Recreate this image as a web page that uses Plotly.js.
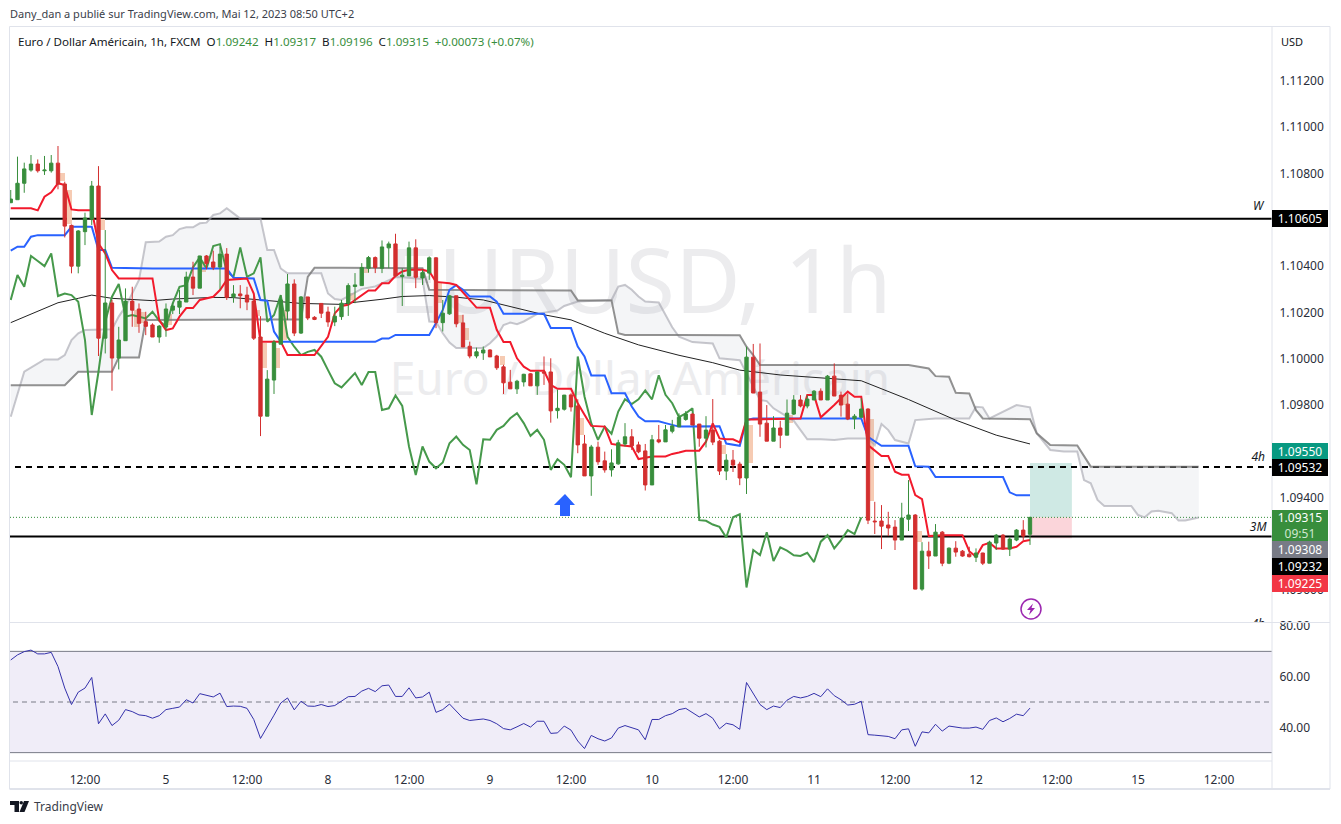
<!DOCTYPE html>
<html><head><meta charset="utf-8">
<script src="https://cdn.plot.ly/plotly-3.0.1.min.js"></script>
<style>html,body{margin:0;padding:0;background:#fff;overflow:hidden}#c{width:1341px;height:824px}</style>
</head><body><div id="c"></div>
<script>
const open=[1.10674,1.10687,1.10758,1.10815,1.10841,1.10812,1.10812,1.10845,1.10755,1.10576,
1.10400,1.10549,1.10603,1.10746,1.10089,1.10241,1.10003,1.10078,1.10249,1.10215,
1.10160,1.10146,1.10094,1.10137,1.10210,1.10223,1.10245,1.10353,1.10305,1.10444,
1.10418,1.10396,1.10452,1.10267,1.10280,1.10275,1.10249,1.10094,1.09752,1.09908,
1.10063,1.10206,1.10323,1.10111,1.10267,1.10179,1.10239,1.10202,1.10159,1.10182,
1.10240,1.10312,1.10316,1.10391,1.10437,1.10391,1.10479,1.10496,1.10355,1.10358,
1.10479,1.10349,1.10370,1.10436,1.10156,1.10194,1.10272,1.10155,1.10054,1.10012,
1.10025,1.10038,1.10012,1.09965,1.09899,1.09870,1.09900,1.09935,1.09883,1.09943,
1.09943,1.09776,1.09782,1.09844,1.09796,1.09632,1.09494,1.09618,1.09559,1.09520,
1.09546,1.09632,1.09663,1.09628,1.09602,1.09455,1.09650,1.09641,1.09687,1.09706,
1.09738,1.09761,1.09718,1.09657,1.09692,1.09644,1.09515,1.09562,1.09545,1.09485,
1.10007,1.09856,1.09722,1.09644,1.09701,1.09670,1.09761,1.09822,1.09796,1.09822,
1.09860,1.09822,1.09925,1.09843,1.09804,1.09741,1.09747,1.09783,1.09299,1.09299,
1.09282,1.09273,1.09217,1.09307,1.09325,1.09005,1.09169,1.09148,1.09251,1.09117,
1.09182,1.09169,1.09156,1.09143,1.09161,1.09117,1.09204,1.09238,1.09178,1.09217,
1.09260,1.09242];
const close=[1.10690,1.10758,1.10820,1.10841,1.10812,1.10815,1.10845,1.10755,1.10573,1.10400,
1.10552,1.10608,1.10746,1.10089,1.10241,1.10003,1.10081,1.10249,1.10210,1.10153,
1.10140,1.10094,1.10141,1.10215,1.10228,1.10249,1.10353,1.10305,1.10444,1.10412,
1.10395,1.10452,1.10265,1.10280,1.10272,1.10245,1.10089,1.09752,1.09912,1.10072,
1.10254,1.10323,1.10111,1.10267,1.10176,1.10170,1.10197,1.10159,1.10184,1.10240,
1.10316,1.10319,1.10394,1.10437,1.10394,1.10483,1.10496,1.10358,1.10361,1.10479,
1.10352,1.10372,1.10436,1.10156,1.10197,1.10272,1.10151,1.10051,1.10012,1.10030,
1.10038,1.10008,1.09961,1.09896,1.09870,1.09903,1.09933,1.09883,1.09943,1.09938,
1.09775,1.09786,1.09843,1.09792,1.09628,1.09494,1.09619,1.09555,1.09520,1.09550,
1.09637,1.09663,1.09624,1.09598,1.09455,1.09650,1.09641,1.09693,1.09710,1.09747,
1.09761,1.09714,1.09657,1.09692,1.09640,1.09515,1.09562,1.09541,1.09485,1.10007,
1.09852,1.09718,1.09644,1.09701,1.09670,1.09765,1.09822,1.09796,1.09826,1.09860,
1.09822,1.09925,1.09839,1.09800,1.09740,1.09752,1.09783,1.09303,1.09296,1.09277,
1.09269,1.09217,1.09312,1.09325,1.09005,1.09169,1.09148,1.09251,1.09117,1.09182,
1.09165,1.09148,1.09145,1.09161,1.09117,1.09208,1.09238,1.09178,1.09221,1.09260,
1.09234,1.09315];
const high=[1.10729,1.10873,1.10847,1.10880,1.10861,1.10876,1.10880,1.10919,1.10765,1.10580,
1.10556,1.10631,1.10768,1.10832,1.10556,1.10254,1.10138,1.10304,1.10311,1.10239,
1.10203,1.10153,1.10146,1.10239,1.10242,1.10297,1.10376,1.10419,1.10444,1.10448,
1.10467,1.10484,1.10478,1.10318,1.10318,1.10311,1.10275,1.10184,1.09951,1.10081,
1.10275,1.10366,1.10343,1.10271,1.10267,1.10184,1.10239,1.10225,1.10225,1.10254,
1.10326,1.10370,1.10413,1.10444,1.10442,1.10511,1.10506,1.10540,1.10391,1.10506,
1.10516,1.10384,1.10442,1.10439,1.10254,1.10276,1.10272,1.10190,1.10074,1.10048,
1.10053,1.10041,1.10017,1.09974,1.09952,1.09909,1.09935,1.09938,1.09945,1.10010,
1.10002,1.09866,1.09844,1.09851,1.09825,1.09671,1.09628,1.09642,1.09599,1.09609,
1.09650,1.09722,1.09696,1.09642,1.09632,1.09671,1.09714,1.09714,1.09736,1.09764,
1.09774,1.09764,1.09718,1.09752,1.09826,1.09649,1.09588,1.09606,1.09555,1.10052,
1.10064,1.10066,1.09800,1.09752,1.09732,1.09824,1.09843,1.09843,1.09843,1.09865,
1.09872,1.09930,1.09980,1.09858,1.09850,1.09761,1.09829,1.09786,1.09382,1.09368,
1.09339,1.09303,1.09378,1.09476,1.09329,1.09208,1.09210,1.09286,1.09256,1.09185,
1.09212,1.09174,1.09188,1.09181,1.09162,1.09214,1.09243,1.09243,1.09231,1.09264,
1.09303,1.09317];
const low=[1.10674,1.10687,1.10717,1.10808,1.10804,1.10794,1.10804,1.10732,1.10524,1.10369,
1.10369,1.10491,1.10578,1.10012,1.10023,1.09862,1.09954,1.10078,1.10138,1.10112,
1.10102,1.10094,1.10069,1.10095,1.10193,1.10193,1.10245,1.10275,1.10305,1.10386,
1.10383,1.10300,1.10254,1.10242,1.10218,1.10210,1.10081,1.09666,1.09752,1.09848,
1.10063,1.10167,1.10098,1.10107,1.10167,1.10167,1.10176,1.10138,1.10141,1.10168,
1.10185,1.10240,1.10316,1.10372,1.10370,1.10370,1.10391,1.10352,1.10228,1.10358,
1.10305,1.10319,1.10341,1.10132,1.10118,1.10190,1.10136,1.10051,1.10002,1.10002,
1.09995,1.10008,1.09952,1.09848,1.09870,1.09848,1.09880,1.09883,1.09844,1.09887,
1.09724,1.09742,1.09776,1.09772,1.09592,1.09494,1.09408,1.09542,1.09508,1.09491,
1.09542,1.09621,1.09606,1.09592,1.09431,1.09455,1.09635,1.09641,1.09678,1.09706,
1.09732,1.09714,1.09620,1.09617,1.09627,1.09498,1.09476,1.09511,1.09454,1.09416,
1.09852,1.09663,1.09644,1.09644,1.09614,1.09670,1.09757,1.09790,1.09786,1.09822,
1.09822,1.09822,1.09839,1.09750,1.09735,1.09696,1.09747,1.09286,1.09243,1.09178,
1.09234,1.09174,1.09217,1.09256,1.09004,1.08998,1.09092,1.09148,1.09104,1.09113,
1.09145,1.09145,1.09142,1.09122,1.09109,1.09117,1.09174,1.09174,1.09148,1.09212,
1.09217,1.09196];

const tenkanX=[0,3,4,5,6,7,8,9,10,12,13,14,15,16,21,22,23,24,25,26,27,28,30,31,32,33,35,36,37,40,41,45,46,47,48,49,50,52,53,54,55,56,57,58,59,61,62,63,64,65,66,67,68,69,71,72,73,74,75,76,77,79,80,81,83,84,85,86,88,89,90,92,93,95,97,98,99,100,102,103,104,105,106,107,108,109,110,116,117,118,119,120,122,124,125,126,127,129,130,131,132,133,134,135,136,138,141,142,143,144,145,146,148,149,150,151];
const tenkanY=[1.10650,1.10650,1.10641,1.10700,1.10719,1.10758,1.10750,1.10645,1.10641,1.10641,1.10498,1.10455,1.10383,1.10347,1.10347,1.10167,1.10124,1.10131,1.10182,1.10219,1.10219,1.10254,1.10268,1.10297,1.10340,1.10343,1.10347,1.10282,1.10074,1.10074,1.10016,1.10016,1.10055,1.10095,1.10196,1.10228,1.10233,1.10276,1.10295,1.10295,1.10326,1.10326,1.10358,1.10377,1.10384,1.10384,1.10377,1.10332,1.10329,1.10326,1.10319,1.10286,1.10257,1.10221,1.10220,1.10125,1.10072,1.10072,1.10002,1.09966,1.09948,1.09948,1.09887,1.09870,1.09870,1.09808,1.09758,1.09710,1.09707,1.09632,1.09628,1.09621,1.09567,1.09578,1.09578,1.09589,1.09595,1.09603,1.09603,1.09642,1.09721,1.09656,1.09652,1.09652,1.09639,1.09738,1.09738,1.09742,1.09742,1.09843,1.09843,1.09747,1.09800,1.09858,1.09836,1.09836,1.09627,1.09580,1.09580,1.09512,1.09499,1.09499,1.09411,1.09394,1.09234,1.09238,1.09238,1.09169,1.09145,1.09195,1.09205,1.09181,1.09181,1.09188,1.09212,1.09217];
const kijunX=[0,1,2,3,4,8,9,12,13,14,15,21,32,33,36,37,38,39,40,49,54,55,56,57,62,63,64,65,66,67,68,71,72,73,79,80,83,84,85,86,88,89,91,92,93,94,96,97,99,105,106,108,109,110,126,127,129,133,134,136,137,147,148,149,151];
const kijunY=[1.10467,1.10484,1.10484,1.10527,1.10534,1.10534,1.10570,1.10570,1.10470,1.10470,1.10393,1.10390,1.10390,1.10350,1.10347,1.10254,1.10251,1.10117,1.10074,1.10073,1.10073,1.10087,1.10087,1.10103,1.10103,1.10154,1.10211,1.10298,1.10318,1.10298,1.10269,1.10269,1.10247,1.10194,1.10194,1.10133,1.10133,1.10053,1.10010,1.09928,1.09928,1.09851,1.09851,1.09794,1.09750,1.09730,1.09730,1.09722,1.09707,1.09709,1.09634,1.09624,1.09735,1.09742,1.09742,1.09663,1.09624,1.09624,1.09536,1.09534,1.09489,1.09489,1.09423,1.09410,1.09410];
const chikou=[1.10254,1.10362,1.10311,1.10444,1.10422,1.10400,1.10455,1.10271,1.10282,1.10275,1.10246,1.10081,1.09757,1.09944,1.10160,1.10268,1.10323,1.10182,1.10189,1.10182,1.10174,1.10203,1.10164,1.10138,1.10239,1.10311,1.10318,1.10395,1.10438,1.10390,1.10487,1.10495,1.10376,1.10354,1.10481,1.10354,1.10369,1.10438,1.10160,1.10189,1.10275,1.10095,1.10052,1.10016,1.10030,1.10038,1.10009,1.09951,1.09894,1.09876,1.09906,1.09938,1.09887,1.09943,1.09943,1.09779,1.09786,1.09841,1.09796,1.09621,1.09498,1.09621,1.09556,1.09527,1.09552,1.09635,1.09664,1.09628,1.09606,1.09458,1.09652,1.09650,1.09693,1.09710,1.09743,1.09765,1.09722,1.09667,1.09693,1.09650,1.09520,1.09566,1.09542,1.09488,1.10010,1.09837,1.09722,1.09650,1.09707,1.09676,1.09772,1.09825,1.09804,1.09825,1.09863,1.09825,1.09929,1.09844,1.09808,1.09748,1.09764,1.09786,1.09303,1.09300,1.09284,1.09274,1.09228,1.09315,1.09328,1.09012,1.09174,1.09152,1.09251,1.09126,1.09185,1.09171,1.09151,1.09148,1.09162,1.09122,1.09210,1.09238,1.09181,1.09217,1.09260,1.09243,1.09315];
const spanAX=[0,2,5,7,8,9,10,11,15,16,17,18,19,20,22,23,24,25,26,27,28,29,30,31,32,33,34,37,38,39,40,41,46,47,48,49,52,54,56,57,58,61,62,63,64,65,66,70,71,72,73,74,75,76,78,80,81,82,84,89,90,91,92,93,94,96,97,98,99,101,104,105,108,111,112,113,116,118,120,122,124,127,128,129,130,131,133,134,137,142,143,144,145,147,149,151,152,154,156,158,159,160,161,162,166,167,168,169,170,172,173,174,176];
const spanAY=[1.09750,1.09944,1.09997,1.09997,1.10016,1.10081,1.10110,1.10124,1.10127,1.10182,1.10225,1.10282,1.10340,1.10503,1.10506,1.10527,1.10534,1.10560,1.10568,1.10568,1.10585,1.10588,1.10621,1.10628,1.10650,1.10628,1.10606,1.10606,1.10470,1.10470,1.10390,1.10369,1.10369,1.10282,1.10258,1.10254,1.10302,1.10312,1.10341,1.10352,1.10352,1.10344,1.10161,1.10159,1.10110,1.10070,1.10046,1.10046,1.10067,1.10096,1.10146,1.10156,1.10149,1.10161,1.10194,1.10204,1.10208,1.10228,1.10247,1.10254,1.10312,1.10319,1.10298,1.10269,1.10247,1.10243,1.10190,1.10136,1.10095,1.10072,1.10066,1.10002,1.09994,1.09822,1.09817,1.09786,1.09732,1.09652,1.09652,1.09649,1.09656,1.09656,1.09627,1.09718,1.09692,1.09649,1.09634,1.09735,1.09742,1.09742,1.09793,1.09790,1.09742,1.09771,1.09800,1.09790,1.09678,1.09606,1.09599,1.09599,1.09476,1.09462,1.09390,1.09364,1.09364,1.09325,1.09315,1.09340,1.09343,1.09333,1.09301,1.09301,1.09314];
const spanBX=[0,8,10,15,16,19,20,42,43,44,45,49,61,62,83,84,89,90,91,99,108,109,110,111,133,136,137,139,140,142,143,144,151,152,154,158,160,176];
const spanBY=[1.09886,1.09886,1.09944,1.09944,1.10006,1.10006,1.10167,1.10167,1.10170,1.10354,1.10393,1.10393,1.10391,1.10298,1.10295,1.10252,1.10252,1.10110,1.10103,1.10103,1.10102,1.10052,1.10016,1.09973,1.09973,1.09958,1.09925,1.09922,1.09853,1.09850,1.09778,1.09742,1.09739,1.09678,1.09628,1.09625,1.09534,1.09534];
const emaX=[0,7,10,12,15,21,24,30,33,38,43,49,51,55,58,62,66,70,73,79,83,88,93,99,104,108,114,120,126,133,140,146,151];
const emaY=[1.10156,1.10242,1.10261,1.10275,1.10261,1.10251,1.10258,1.10265,1.10264,1.10251,1.10239,1.10235,1.10244,1.10257,1.10269,1.10273,1.10266,1.10254,1.10233,1.10190,1.10168,1.10110,1.10060,1.10015,1.09983,1.09951,1.09930,1.09918,1.09905,1.09824,1.09735,1.09670,1.09632];
const rsi=[66.6,68.6,69.9,70.5,69.0,69.0,69.6,64.0,55.5,49.0,53.9,55.5,59.7,41.4,45.3,40.7,42.8,47.0,46.2,44.9,44.6,43.6,44.6,47.0,47.5,48.0,50.9,49.6,53.3,52.6,52.0,53.5,48.2,48.4,48.3,47.5,43.1,35.6,40.5,44.8,49.6,51.6,46.9,50.3,48.4,48.3,49.0,48.2,48.6,50.3,52.1,52.2,54.3,55.4,54.1,56.4,56.7,52.2,52.2,55.6,51.6,52.0,53.9,45.9,47.0,49.2,46.2,43.6,42.7,43.1,43.3,42.7,41.4,39.5,39.0,40.2,41.5,40.1,42.4,
42.4,37.6,37.8,40.5,38.9,34.6,31.6,36.8,35.5,34.6,35.8,39.7,40.7,39.8,39.0,35.1,43.1,43.1,44.6,45.4,47.0,47.5,45.9,44.1,45.4,43.6,39.4,41.6,41.0,39.2,57.7,53.3,49.0,47.0,48.4,47.8,50.7,52.2,51.6,52.2,53.4,52.1,55.2,52.5,50.9,48.8,49.1,50.3,37.1,36.9,36.7,36.4,35.5,39.0,39.4,32.5,38.2,37.8,41.2,38.5,40.5,40.2,39.7,39.7,40.1,39.2,42.7,43.7,42.2,43.5,45.2,44.6,47.6];
const gapX=[7.65,8.65,13.6,18.6,19.6,23.6,28.6,36.6,37.6,39.6,40.6,50.6,52.7,63.6,66.6,67.6,72.8,84.6,105.6,109.6,115.6,123.6,127.6,134.6];
const gapTop=[1.10804,1.10729,1.10603,1.10210,1.10203,1.10193,1.10412,1.10210,1.10066,1.10046,1.10210,1.10283,1.10387,1.10326,1.10190,1.10132,1.10012,1.09743,1.09627,1.09716,1.09757,1.09843,1.09742,1.09256];
const gapBottom=[1.10769,1.10582,1.10556,1.10138,1.10153,1.10146,1.10375,1.10184,1.09960,1.09960,1.10081,1.10254,1.10372,1.10240,1.10156,1.10079,1.09974,1.09671,1.09588,1.09549,1.09724,1.09800,1.09385,1.09208];
const priceTicks=[1.112,1.110,1.108,1.104,1.102,1.100,1.098,1.094,1.090];
const rsiTicks=[80,60,40];
const timeTickVals=[11,23,35,47,59,71,83,95,107,119,131,143,155,167,179];
const timeTickText=['12:00','5','12:00','8','12:00','9','12:00','10','12:00','11','12:00','12','12:00','15','12:00'];
const levelW=1.10605, level4h=1.09532, level3M=1.09232, lastPrice=1.09315;
const takeProfit=1.09550, stopLoss=1.09225;
const FONT='"Noto Sans", "Open Sans", sans-serif';
const W=1341,H=824;
const bars=open.map((_,i)=>i);
const px=(x,y)=>(x/W).toFixed(5)+','+(1-y/H).toFixed(5);
const pathOf=pts=>'M'+pts.map(p=>px(p[0],p[1])).join('L')+'Z';

const lines=(x,y,color,width)=>({type:'scatter',mode:'lines',x,y,line:{color,width},hoverinfo:'skip',xaxis:'x',yaxis:'y'});
const spanA=lines(spanAX,spanAY,'rgba(165,165,175,0.62)',2);
const spanB=lines(spanBX,spanBY,'rgba(115,115,115,0.78)',2);
spanB.fill='tonexty';spanB.fillcolor='rgba(120,123,150,0.08)';

const traces=[
 {type:'scatter',mode:'text',x:[93.2],y:[1.10295],text:['EURUSD, 1h'],textposition:'middle center',textfont:{family:FONT,size:90,color:'#ececee'},hoverinfo:'skip',xaxis:'x',yaxis:'y'},
 {type:'scatter',mode:'text',x:[93.2],y:[1.09895],text:['Euro / Dollar Américain'],textposition:'middle center',textfont:{family:FONT,size:46,color:'#ececee'},hoverinfo:'skip',xaxis:'x',yaxis:'y'},
 {type:'bar',x:gapX,base:gapBottom,y:gapTop.map((v,i)=>v-gapBottom[i]),width:0.72,marker:{color:'#f6cbb3',line:{width:0}},hoverinfo:'skip',xaxis:'x',yaxis:'y'},
 spanA,spanB,
 lines(emaX,emaY,'#222222',1),
 lines(bars.slice(0,chikou.length),chikou,'#46994b',2),
 lines(kijunX,kijunY,'#2962ff',2),
 lines(tenkanX,tenkanY,'#f21a2c',2),
 {type:'scatter',mode:'text',x:[184.8,184.8,184.8,184.8],y:[1.10655,1.09570,1.09270,1.08850],text:['W','4h','3M','4h'],textposition:'middle center',textfont:{family:FONT,size:12,color:'#131722',style:'italic'},cliponaxis:true,hoverinfo:'skip',xaxis:'x',yaxis:'y'},
 {type:'candlestick',x:bars,open,high,low,close,whiskerwidth:0,
  increasing:{line:{color:'#388e3c',width:1},fillcolor:'#388e3c'},
  decreasing:{line:{color:'#d32f2f',width:1},fillcolor:'#d32f2f'},hoverinfo:'skip',xaxis:'x3',yaxis:'y3'},
 {type:'scatter',mode:'lines',x:bars,y:rsi,line:{color:'#3431ab',width:1},hoverinfo:'skip',xaxis:'x2',yaxis:'y2'}
];

const hline=(y,dash,width,color)=>({type:'line',xref:'x',yref:'y',x0:-1,x1:187,y0:y,y1:y,line:{color,width,dash},layer:'below'});
const rline=(y,dash)=>({type:'line',xref:'x2',yref:'y2',x0:-1,x1:187,y0:y,y1:y,line:{color:'#787b86',width:1,dash},layer:'below'});
const frame=(x0,y0,x1,y1,c,w)=>({type:'line',xref:'paper',yref:'paper',x0:x0/W,x1:x1/W,y0:1-y0/H,y1:1-y1/H,line:{color:c||'#e0e3eb',width:w||1},layer:'above'});
const shapes=[
 {type:'rect',xref:'x',yref:'y',x0:151,x1:157.2,y0:lastPrice,y1:takeProfit,fillcolor:'#cfe9e4',line:{width:0},layer:'below'},
 {type:'rect',xref:'x',yref:'y',x0:151,x1:157.2,y0:stopLoss,y1:lastPrice,fillcolor:'#fbd5da',line:{width:0},layer:'below'},
 hline(levelW,'solid',2,'#000'),hline(level4h,'6px,5px',2,'#000'),hline(level3M,'solid',2,'#000'),
 hline(lastPrice,'1px,2px',1,'#2e8b35'),
 {type:'rect',xref:'x2',yref:'y2',x0:-1,x1:187,y0:30,y1:70,fillcolor:'#f0edf8',line:{width:0},layer:'below'},
 rline(70,'solid'),rline(30,'solid'),rline(50,'5px,4px'),
 frame(9.5,26.5,1330,26.5),frame(9.5,26.5,9.5,789),frame(1330,26.5,1330,789,'#e0e3eb',1),frame(9.5,789,1330,789,'#e0e3eb',2),
 frame(10,622.5,1330,622.5),frame(10,761,1272,761),frame(1272,27,1272,789),
 {type:'path',xref:'paper',yref:'paper',path:pathOf([[565,494],[575,505],[570,505],[570,516],[560,516],[560,505],[554,505]]),fillcolor:'#2962ff',line:{width:0},layer:'above'},
 {type:'circle',xref:'paper',yref:'paper',x0:1021/W,x1:1041/W,y0:1-599/H,y1:1-619/H,line:{color:'#9c27b0',width:1.5},fillcolor:'#ffffff',layer:'above'},
 {type:'path',xref:'paper',yref:'paper',path:pathOf([[1033,603.5],[1027,610],[1030.5,610],[1029,615],[1035,608],[1031.5,608]]),fillcolor:'#9c27b0',line:{width:0},layer:'above'},
 {type:'path',xref:'paper',yref:'paper',path:pathOf([[10,801],[19,801],[19,812],[14.5,812],[14.5,805],[10,805]]),fillcolor:'#131722',line:{width:0},layer:'above'},
 {type:'circle',xref:'paper',yref:'paper',x0:19.5/W,x1:23/W,y0:1-801/H,y1:1-804.5/H,fillcolor:'#131722',line:{width:0},layer:'above'},
 {type:'path',xref:'paper',yref:'paper',path:pathOf([[24,801],[29,801],[24.5,812],[19.5,812]]),fillcolor:'#131722',line:{width:0},layer:'above'}
];

const note=(x,y,text,size,color,anchor)=>({xref:'paper',yref:'paper',x:x/W,y:1-y/H,text,showarrow:false,xanchor:anchor||'left',yanchor:'middle',font:{family:FONT,size,color}});
const tag=(y,h,text,bg)=>({xref:'paper',yref:'paper',x:1299.5/W,y:1-y/H,text,showarrow:false,xanchor:'center',yanchor:'middle',width:56,height:h,bgcolor:bg,borderpad:0,borderwidth:0,font:{family:FONT,size:12,color:'#ffffff'}});
const g=s=>'<span style="color:#388e3c">'+s+'</span>';
const annotations=[
 note(8,14,'Dany_dan a publié sur TradingView.com, Mai 12, 2023 08:50 UTC+2',11,'#3a3e4a'),
 note(16,41,'Euro / Dollar Américain, 1h, FXCM  O'+g('1.09242')+'  H'+g('1.09317')+'  B'+g('1.09196')+'  C'+g('1.09315')+'  '+g('+0.00073 (+0.07%)'),11.6,'#131722'),
 note(1292,41,'USD',11,'#131722','center'),
 note(32,806,'TradingView',12,'#3a3e4a'),
 tag(218.5,17,'1.10605','#000000'),
 tag(451,17,'1.09550','#089981'),
 tag(467.5,17,'1.09532','#000000'),
 tag(525.5,31,'1.09315<br><span style="color:#cfe8d0">09:51</span>','#388e3c'),
 tag(549.5,17,'1.09308','#787b86'),
 tag(566.5,17,'1.09232','#000000'),
 tag(583.5,17,'1.09225','#f23645')
];

const xr=[-0.11,186.85], yr=[1.08863,1.11433];
const layout={
 width:W,height:H,margin:{l:0,r:0,t:0,b:0},paper_bgcolor:'#fff',plot_bgcolor:'#fff',showlegend:false,dragmode:false,
 bargap:0,
 xaxis:{domain:[10/W,1272/W],range:xr,anchor:'y',showticklabels:false,showgrid:false,zeroline:false,ticks:'',showline:false,fixedrange:true,rangeslider:{visible:false}},
 yaxis:{domain:[1-622/H,1-27/H],range:yr,anchor:'x',side:'right',tickvals:priceTicks,tickformat:'.5f',showgrid:false,zeroline:false,ticks:'outside',ticklen:4,tickcolor:'rgba(0,0,0,0)',tickfont:{family:FONT,size:12,color:'#2a2e39'},fixedrange:true},
 xaxis3:{overlaying:'x',range:xr,visible:false,fixedrange:true,rangeslider:{visible:false},anchor:'y3'},
 yaxis3:{overlaying:'y',range:yr,visible:false,fixedrange:true,side:'right',anchor:'x3'},
 xaxis2:{domain:[10/W,1272/W],range:xr,anchor:'y2',tickmode:'array',tickvals:timeTickVals,ticktext:timeTickText,tickangle:0,showgrid:false,zeroline:false,ticks:'outside',ticklen:8,tickcolor:'rgba(0,0,0,0)',tickfont:{family:FONT,size:12,color:'#2a2e39'},fixedrange:true},
 yaxis2:{domain:[1-761/H,1-623/H],range:[26.7,81.2],anchor:'x2',side:'right',tickvals:rsiTicks,tickformat:'.2f',showgrid:false,zeroline:false,ticks:'outside',ticklen:4,tickcolor:'rgba(0,0,0,0)',tickfont:{family:FONT,size:12,color:'#2a2e39'},fixedrange:true},
 shapes,annotations
};
Plotly.newPlot('c',traces,layout,{displayModeBar:false,staticPlot:true});
</script></body></html>
